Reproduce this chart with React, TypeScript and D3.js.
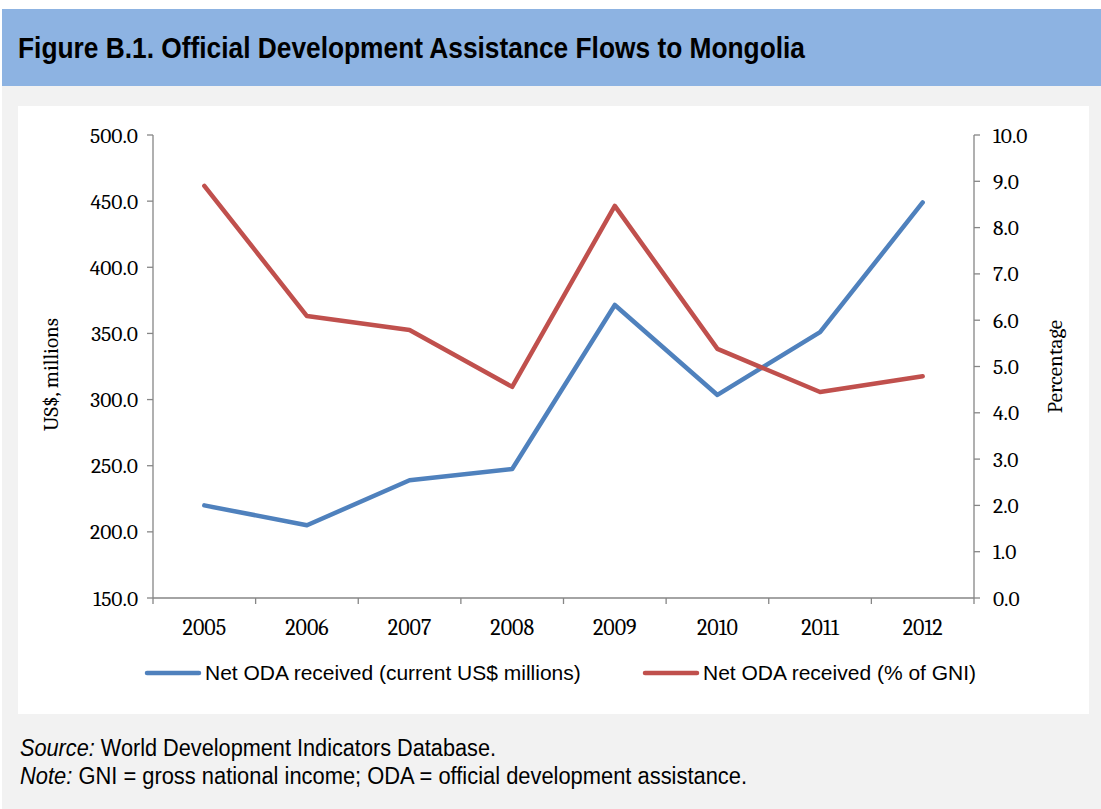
import React from "react";
import * as d3 from "d3";

const years = ["2005", "2006", "2007", "2008", "2009", "2010", "2011", "2012"];
const odaMillions = [220, 205, 239, 247.5, 371.5, 303.5, 351, 449];
const odaPctGni = [8.9, 6.09, 5.79, 4.56, 8.47, 5.38, 4.45, 4.79];
const leftTicks = [150, 200, 250, 300, 350, 400, 450, 500];
const rightTicks = [0, 1, 2, 3, 4, 5, 6, 7, 8, 9, 10];
const seriesNames = ["Net ODA received (current US$ millions)", "Net ODA received (% of GNI)"];

const W = 1101;
const H = 809;
const plot = { left: 153, right: 974, top: 135, bottom: 598 };
const BLUE = "#4F81BD";
const RED = "#C0504D";
const AXIS = "#868686";
const SERIF = "Cambria, 'Liberation Serif', 'DejaVu Serif', serif";
const SANS = "Arial, 'Liberation Sans', sans-serif";
const NARROW = "'Arial Narrow', 'Liberation Sans Narrow', 'Liberation Sans', Arial, sans-serif";

export default function App() {
  const x = d3.scaleBand<string>().domain(years).range([plot.left, plot.right]);
  const yL = d3.scaleLinear().domain([150, 500]).range([plot.bottom, plot.top]);
  const yR = d3.scaleLinear().domain([0, 10]).range([plot.bottom, plot.top]);
  const cx = (yr: string) => (x(yr) as number) + x.bandwidth() / 2;

  const lineL = d3.line<number>().x((_, i) => cx(years[i])).y((d) => yL(d));
  const lineR = d3.line<number>().x((_, i) => cx(years[i])).y((d) => yR(d));

  const boundaries = years.map((y) => x(y) as number).concat([plot.right]);

  return (
    <svg width={W} height={H} style={{ position: "absolute", left: 0, top: 0 }}>
      <rect x={0} y={0} width={W} height={H} fill="#ffffff" />
      <rect x={2} y={86} width={W - 2} height={H - 86} fill="#F2F2F2" />
      <rect x={2} y={9} width={W - 2} height={77} fill="#8DB3E2" />
      <text x={18} y={58} fontFamily={NARROW} fontWeight="bold" fontSize={30} fill="#000" textLength={787} lengthAdjust="spacingAndGlyphs">
        Figure B.1. Official Development Assistance Flows to Mongolia
      </text>
      <rect x={18} y={106} width={1071} height={608} fill="#ffffff" />

      {/* axes */}
      <line x1={plot.left} x2={plot.left} y1={plot.top} y2={plot.bottom} stroke={AXIS} strokeWidth={1.3} />
      <line x1={plot.right} x2={plot.right} y1={plot.top} y2={plot.bottom} stroke={AXIS} strokeWidth={1.3} />
      <line x1={plot.left} x2={plot.right} y1={plot.bottom} y2={plot.bottom} stroke={AXIS} strokeWidth={1.3} />

      {leftTicks.map((t) => (
        <g key={"l" + t}>
          <line x1={plot.left - 6} x2={plot.left} y1={yL(t)} y2={yL(t)} stroke={AXIS} strokeWidth={1.3} />
          <text x={138} y={yL(t)} dy="0.35em" textAnchor="end" fontFamily={SERIF} fontSize={21.5} fill="#000">
            {t.toFixed(1)}
          </text>
        </g>
      ))}
      {rightTicks.map((t) => (
        <g key={"r" + t}>
          <line x1={plot.right} x2={plot.right + 6} y1={yR(t)} y2={yR(t)} stroke={AXIS} strokeWidth={1.3} />
          <text x={993} y={yR(t)} dy="0.35em" textAnchor="start" fontFamily={SERIF} fontSize={21.5} fill="#000">
            {t.toFixed(1)}
          </text>
        </g>
      ))}
      {boundaries.map((b, i) => (
        <line key={"b" + i} x1={b} x2={b} y1={plot.bottom} y2={plot.bottom + 6} stroke={AXIS} strokeWidth={1.3} />
      ))}
      {years.map((yr) => (
        <text key={yr} x={cx(yr)} y={627} dy="0.35em" textAnchor="middle" fontFamily={SERIF} fontSize={22} fill="#000">
          {yr}
        </text>
      ))}

      <text transform={`translate(58,${(plot.top + plot.bottom) / 2 + 8}) rotate(-90)`} textAnchor="middle" fontFamily={SERIF} fontSize={21} fill="#000">
        US$, millions
      </text>
      <text transform={`translate(1062,${(plot.top + plot.bottom) / 2}) rotate(-90)`} textAnchor="middle" fontFamily={SERIF} fontSize={21} fill="#000">
        Percentage
      </text>

      <path d={lineL(odaMillions) || ""} fill="none" stroke={BLUE} strokeWidth={4.5} strokeLinejoin="round" strokeLinecap="round" />
      <path d={lineR(odaPctGni) || ""} fill="none" stroke={RED} strokeWidth={4.5} strokeLinejoin="round" strokeLinecap="round" />

      {/* legend */}
      <line x1={147} x2={199} y1={673} y2={673} stroke={BLUE} strokeWidth={4.5} strokeLinecap="round" />
      <text x={205} y={673} dy="0.35em" fontFamily={SANS} fontSize={21} fill="#000">{seriesNames[0]}</text>
      <line x1={645} x2={697} y1={673} y2={673} stroke={RED} strokeWidth={4.5} strokeLinecap="round" />
      <text x={703} y={673} dy="0.35em" fontFamily={SANS} fontSize={21} fill="#000">{seriesNames[1]}</text>

      {/* footer */}
      <text x={20} y={756} fontFamily={NARROW} fontSize={23} fill="#000" textLength={476} lengthAdjust="spacingAndGlyphs">
        <tspan fontStyle="italic">Source:</tspan> World Development Indicators Database.
      </text>
      <text x={20} y={784} fontFamily={NARROW} fontSize={23} fill="#000" textLength={727} lengthAdjust="spacingAndGlyphs">
        <tspan fontStyle="italic">Note:</tspan> GNI = gross national income; ODA = official development assistance.
      </text>
    </svg>
  );
}
